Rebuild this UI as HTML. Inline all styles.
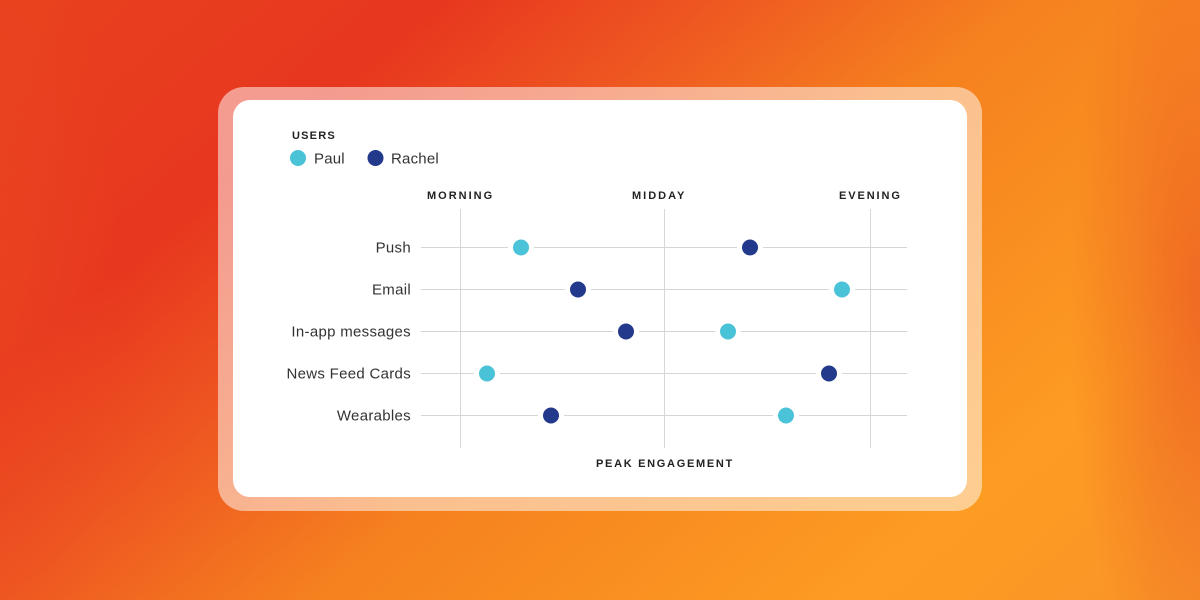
<!DOCTYPE html>
<html>
<head>
<meta charset="utf-8">
<style>
  html,body{margin:0;padding:0;}
  body{width:1200px;height:600px;overflow:hidden;position:relative;
    background:
      radial-gradient(ellipse 11% 70% at 100% 50%, rgba(232,80,36,0.65), rgba(232,80,36,0) 100%),
      radial-gradient(ellipse 10% 70% at 0% 50%, rgba(236,78,34,0.4), rgba(236,78,34,0) 100%),
      linear-gradient(140deg, #e8421f 0%, #e7371f 23%, #ee5621 37%, #f5801f 53%, #fd9c22 82%, #f99428 100%);
  }
  .frame{position:absolute;left:218px;top:87px;width:764px;height:424px;border-radius:26px;background:rgba(255,255,255,0.5);}
  .card{position:absolute;left:233px;top:100px;width:734px;height:397px;border-radius:17px;background:#fff;}
  svg{position:absolute;left:0;top:0;}
  text{font-family:"Liberation Sans",sans-serif;}
</style>
</head>
<body>
<div class="frame"></div>
<div class="card"></div>
<svg width="1200" height="600" viewBox="0 0 1200 600">
  <!-- legend -->
  <text x="292" y="139" font-size="11" font-weight="bold" fill="#222" letter-spacing="1.2">USERS</text>
  <circle cx="298" cy="158" r="8" fill="#4ac3d8"/>
  <text x="314" y="163.5" font-size="15" fill="#333" letter-spacing="0.2">Paul</text>
  <circle cx="375.5" cy="158" r="8" fill="#23398c"/>
  <text x="391" y="163.5" font-size="15" fill="#333" letter-spacing="0.2">Rachel</text>

  <!-- column headers -->
  <text x="427" y="199" font-size="11" font-weight="bold" fill="#222" letter-spacing="2">MORNING</text>
  <text x="632" y="199" font-size="11" font-weight="bold" fill="#222" letter-spacing="2">MIDDAY</text>
  <text x="839" y="199" font-size="11" font-weight="bold" fill="#222" letter-spacing="1.9">EVENING</text>

  <!-- grid -->
  <g stroke="#d6d6d6" stroke-width="1">
    <line x1="460.5" y1="209" x2="460.5" y2="448"/>
    <line x1="664.5" y1="209" x2="664.5" y2="448"/>
    <line x1="870.5" y1="209" x2="870.5" y2="448"/>
    <line x1="421" y1="247.5" x2="907" y2="247.5"/>
    <line x1="421" y1="289.5" x2="907" y2="289.5"/>
    <line x1="421" y1="331.5" x2="907" y2="331.5"/>
    <line x1="421" y1="373.5" x2="907" y2="373.5"/>
    <line x1="421" y1="415.5" x2="907" y2="415.5"/>
  </g>

  <!-- row labels -->
  <g font-size="15" fill="#333" text-anchor="end" letter-spacing="0.3">
    <text x="411" y="252.5">Push</text>
    <text x="411" y="294.5">Email</text>
    <text x="411" y="336.5">In-app messages</text>
    <text x="411" y="378.5">News Feed Cards</text>
    <text x="411" y="420.5">Wearables</text>
  </g>

  <!-- halos -->
  <g fill="#fff">
    <circle cx="521" cy="247.5" r="13"/><circle cx="750" cy="247.5" r="13"/>
    <circle cx="578" cy="289.5" r="13"/><circle cx="842" cy="289.5" r="13"/>
    <circle cx="626" cy="331.5" r="13"/><circle cx="728" cy="331.5" r="13"/>
    <circle cx="487" cy="373.5" r="13"/><circle cx="829" cy="373.5" r="13"/>
    <circle cx="551" cy="415.5" r="13"/><circle cx="786" cy="415.5" r="13"/>
  </g>
  <!-- Paul -->
  <g fill="#4ac3d8">
    <circle cx="521" cy="247.5" r="8"/>
    <circle cx="842" cy="289.5" r="8"/>
    <circle cx="728" cy="331.5" r="8"/>
    <circle cx="487" cy="373.5" r="8"/>
    <circle cx="786" cy="415.5" r="8"/>
  </g>
  <!-- Rachel -->
  <g fill="#23398c">
    <circle cx="750" cy="247.5" r="8"/>
    <circle cx="578" cy="289.5" r="8"/>
    <circle cx="626" cy="331.5" r="8"/>
    <circle cx="829" cy="373.5" r="8"/>
    <circle cx="551" cy="415.5" r="8"/>
  </g>

  <text x="596" y="467" font-size="11" font-weight="bold" fill="#222" letter-spacing="1.7">PEAK ENGAGEMENT</text>
</svg>
</body>
</html>
